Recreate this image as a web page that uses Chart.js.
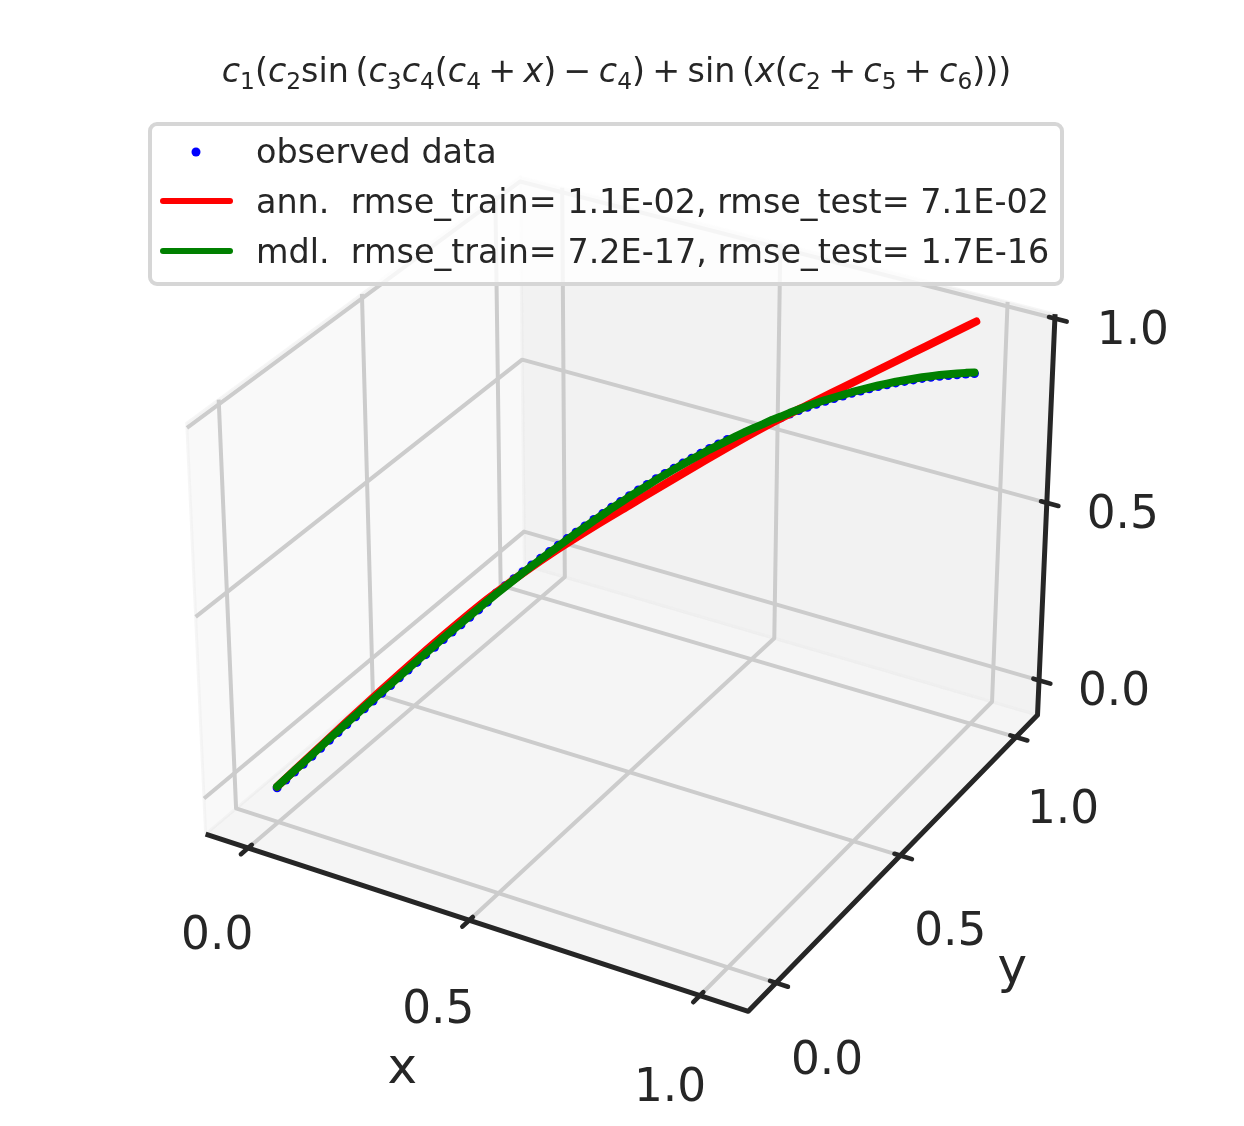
<!DOCTYPE html>
<html>
<head>
<meta charset="utf-8">
<style>
html,body{margin:0;padding:0;background:#fff;width:1244px;height:1126px;overflow:hidden}
#wrap{position:relative;width:1244px;height:1126px}
canvas{display:block}
#title{position:absolute;left:0;width:1233px;top:53px;text-align:center;font-family:"DejaVu Sans";font-size:33.33px;line-height:36px;color:#262626;white-space:nowrap}
#title i{font-style:oblique}
#title sub{font-size:23.3px;line-height:0;vertical-align:-7px}
#title .o{padding:0 7.3px}
</style>
<script src="https://cdn.jsdelivr.net/npm/chart.js@4"></script>
</head>
<body>
<div id="wrap">
<div id="title"><i>c</i><sub>1</sub>(<i>c</i><sub>2</sub>sin&#8201;(<i>c</i><sub>3</sub><i>c</i><sub>4</sub>(<i>c</i><sub>4</sub><span class="o">+</span><i>x</i>)<span class="o">&#8722;</span><i>c</i><sub>4</sub>)<span class="o">+</span>sin&#8201;(<i>x</i>(<i>c</i><sub>2</sub><span class="o">+</span><i>c</i><sub>5</sub><span class="o">+</span><i>c</i><sub>6</sub>)))</div>
<canvas id="c" width="1244" height="1126"></canvas>
</div>
<script>
// ---------- data ----------
const tickValues = [0, 0.5, 1];
const tickLabels = ['0.0', '0.5', '1.0'];
const xLimits = [-0.0986, 1.102];
const yLimits = [-0.1067, 1.097];
const zLimits = [-0.1, 1.012];

const curveX = [0,.0125,.025,.0375,.05,.0625,.075,.0875,.1,.1125,.125,.1375,.15,.1625,.175,.1875,.2,.2125,.225,.2375,
 .25,.2625,.275,.2875,.3,.3125,.325,.3375,.35,.3625,.375,.3875,.4,.4125,.425,.4375,.45,.4625,.475,.4875,
 .5,.5125,.525,.5375,.55,.5625,.575,.5875,.6,.6125,.625,.6375,.65,.6625,.675,.6875,.7,.7125,.725,.7375,
 .75,.7625,.775,.7875,.8,.8125,.825,.8375,.85,.8625,.875,.8875,.9,.9125,.925,.9375,.95,.9625,.975,.9875];
const curveY = curveX;
const modelZ = [0,.019,.038,.056,.075,.094,.113,.131,.150,.168,.187,.205,.223,.241,.259,.277,.295,.313,.330,.348,
 .365,.382,.399,.416,.433,.449,.465,.481,.497,.512,.527,.542,.556,.571,.585,.599,.613,.626,.640,.652,
 .665,.677,.689,.701,.712,.723,.734,.744,.754,.764,.773,.782,.791,.799,.807,.814,.822,.828,.835,.841,
 .847,.852,.857,.861,.865,.869,.872,.875,.878,.880,.882,.883,.884,.885,.885,.885,.884,.883,.882,.880];
const observedZ = [-.003,.015,.034,.052,.071,.090,.109,.127,.146,.164,.183,.201,.219,.237,.255,.273,.291,.309,.326,.344,
 .361,.378,.395,.412,.430,.452,.468,.484,.500,.515,.530,.545,.559,.574,.588,.602,.616,.629,.643,.655,
 .668,.680,.692,.704,.715,.726,.737,.747,.757,.767,.776,.785,.788,.796,.804,.811,.819,.825,.832,.838,
 .844,.849,.854,.858,.862,.866,.869,.872,.875,.877,.879,.880,.881,.882,.882,.882,.881,.880,.879,.877];
const annX = [0,.05,.1,.15,.2,.25,.3,.35,.4,.45,.5,.55,.6,.65,.7,.75,.8,.85,.9,.95,.9875];
const annY = annX;
const annZ = [0,.077,.154,.229,.302,.372,.438,.496,.549,.597,.642,.687,.731,.774,.814,.850,.885,.920,.955,.990,1.016];

const seriesLabels = ['observed data',
 'ann.  rmse_train= 1.1E-02, rmse_test= 7.1E-02',
 'mdl.  rmse_train= 7.2E-17, rmse_test= 1.7E-16'];
const axisNames = ['x', 'y'];

// ---------- 3D camera (elev 30, azim -60, dist 10, box 4:4:3) ----------
const INK = '#262626', GRID = '#cccccc';
const SCALE_X = 5480, SCALE_Y = 5510, CX = 629, CY = 575;
const HX = 1.143, HZ = 0.857, DIST = 10;
const el = 30 * Math.PI / 180, az = -60 * Math.PI / 180;
const W = [Math.cos(el)*Math.cos(az), Math.cos(el)*Math.sin(az), Math.sin(el)];
const U = [-Math.sin(az), Math.cos(az), 0];
const V = [-Math.sin(el)*Math.cos(az), -Math.sin(el)*Math.sin(az), Math.cos(el)];
const dot = (a,b) => a[0]*b[0]+a[1]*b[1]+a[2]*b[2];
const frac = (v,l) => (v-l[0])/(l[1]-l[0]) - 0.5;
function project(x,y,z){
  const p = [frac(x,xLimits)*HX, frac(y,yLimits)*HX, frac(z,zLimits)*HZ];
  const d = DIST - dot(p,W);
  return {x: dot(p,U)/d, y: dot(p,V)/d};
}
const polyline = (pts) => pts.map(p => project(p[0],p[1],p[2]));
const [x0,x1] = xLimits, [y0,y1] = yLimits, [z0,z1] = zLimits;
const rx = x1-x0, ry = y1-y0;

function seg(pts, color, width, order, cap){
  return {data: polyline(pts), showLine:true, pointRadius:0, borderColor:color, borderWidth:width,
    order, tension:0, fill:false, borderCapStyle:cap||'butt', borderJoinStyle:'round', clip:false};
}
function pane(pts, color){
  return {data: polyline(pts), showLine:true, pointRadius:0, borderWidth:3, borderColor:'rgba(235,235,235,0.45)',
    backgroundColor:color, fill:'shape', order:100, tension:0, clip:false};
}
const datasets = [];
datasets.push(pane([[x0,y0,z0],[x0,y1,z0],[x0,y1,z1],[x0,y0,z1],[x0,y0,z0]], '#f9f9f9'));
datasets.push(pane([[x0,y1,z0],[x1,y1,z0],[x1,y1,z1],[x0,y1,z1],[x0,y1,z0]], '#f2f2f2'));
datasets.push(pane([[x0,y0,z0],[x1,y0,z0],[x1,y1,z0],[x0,y1,z0],[x0,y0,z0]], '#f5f5f5'));
for (const t of tickValues){
  datasets.push(seg([[t,y0,z0],[t,y1,z0],[t,y1,z1]], GRID, 4, 90));
  datasets.push(seg([[x1,t,z0],[x0,t,z0],[x0,t,z1]], GRID, 4, 90));
  datasets.push(seg([[x0,y0,t],[x0,y1,t],[x1,y1,t]], GRID, 4, 90));
}
datasets.push(seg([[x0,y0,z0],[x1,y0,z0],[x1,y1,z0],[x1,y1,z1]], INK, 5, 80));
for (const t of tickValues){
  datasets.push(seg([[t,y0-0.021*ry,z0],[t,y0+0.0105*ry,z0]], INK, 4.6, 79, 'round'));
  datasets.push(seg([[x1+0.021*rx,t,z0],[x1-0.0105*rx,t,z0]], INK, 4.6, 79, 'round'));
  datasets.push(seg([[x1+0.021*rx,y1,t],[x1-0.0105*rx,y1,t]], INK, 4.6, 79, 'round'));
}
datasets.push({label:seriesLabels[0], data: curveX.map((v,i)=>project(v,curveY[i],observedZ[i])),
  showLine:false, pointRadius:4.5, pointBorderWidth:0, pointBackgroundColor:'#0000ff', order:3, clip:false});
datasets.push({label:seriesLabels[1], data: annX.map((v,i)=>project(v,annY[i],annZ[i])),
  showLine:true, pointRadius:0, borderColor:'#ff0000', borderWidth:8, borderCapStyle:'round', borderJoinStyle:'round',
  cubicInterpolationMode:'monotone', order:2, clip:false});
datasets.push({label:seriesLabels[2], data: curveX.map((v,i)=>project(v,curveY[i],modelZ[i])),
  showLine:true, pointRadius:0, borderColor:'#008000', borderWidth:8, borderCapStyle:'round', borderJoinStyle:'round',
  tension:0, order:1, clip:false});

const xLabelOffset = [[-31,89],[-31,91],[-30,94]];
const yLabelOffset = [[51,79],[50,78],[47,74]];
const zLabelOffset = [[75,13],[76,13],[78,14]];

const annotations = {
  id:'annotations',
  afterDraw(chart){
    const {ctx, scales:{x:sx, y:sy}} = chart;
    const P = (x,y,z) => { const p = project(x,y,z); return [sx.getPixelForValue(p.x), sy.getPixelForValue(p.y)]; };
    ctx.save();
    ctx.fillStyle = INK; ctx.textAlign='center'; ctx.textBaseline='middle';
    ctx.font = '45.4px "DejaVu Sans"';
    tickValues.forEach((t,i)=>{
      let p = P(t,y0,z0); ctx.fillText(tickLabels[i], p[0]+xLabelOffset[i][0], p[1]+xLabelOffset[i][1]);
      p = P(x1,t,z0);     ctx.fillText(tickLabels[i], p[0]+yLabelOffset[i][0], p[1]+yLabelOffset[i][1]);
      p = P(x1,y1,t);     ctx.fillText(tickLabels[i], p[0]+zLabelOffset[i][0], p[1]+zLabelOffset[i][1]);
    });
    ctx.font = '50px "DejaVu Sans"';
    let q = P(0.5,y0,z0); ctx.fillText(axisNames[0], q[0]-67, q[1]+150);
    q = P(x1,0.5,z0);     ctx.fillText(axisNames[1], q[0]+112, q[1]+114);
    // legend
    ctx.beginPath(); ctx.roundRect(150,124,912,160,7);
    ctx.fillStyle='rgba(255,255,255,0.8)'; ctx.fill();
    ctx.strokeStyle='#d6d6d6'; ctx.lineWidth=4; ctx.stroke();
    ctx.fillStyle='#0000ff'; ctx.beginPath(); ctx.arc(196,152,4.5,0,Math.PI*2); ctx.fill();
    ctx.lineCap='round'; ctx.lineWidth=6;
    ctx.strokeStyle='#ff0000'; ctx.beginPath(); ctx.moveTo(163,201); ctx.lineTo(230,201); ctx.stroke();
    ctx.strokeStyle='#008000'; ctx.beginPath(); ctx.moveTo(163,251); ctx.lineTo(230,251); ctx.stroke();
    ctx.fillStyle=INK; ctx.textAlign='left'; ctx.textBaseline='alphabetic';
    ctx.font='33.4px "DejaVu Sans"';
    seriesLabels.forEach((s,i)=>ctx.fillText(s,256,163+i*50));
    ctx.restore();
  }
};

new Chart(document.getElementById('c'), {
  type:'scatter',
  data:{datasets},
  options:{
    responsive:false, animation:false, devicePixelRatio:1,
    layout:{padding:0},
    plugins:{legend:{display:false}, title:{display:false}, tooltip:{enabled:false}},
    scales:{
      x:{type:'linear', display:false, min:-CX/SCALE_X, max:(1244-CX)/SCALE_X},
      y:{type:'linear', display:false, min:-(1126-CY)/SCALE_Y, max:CY/SCALE_Y}
    }
  },
  plugins:[annotations]
});
</script>
</body>
</html>
